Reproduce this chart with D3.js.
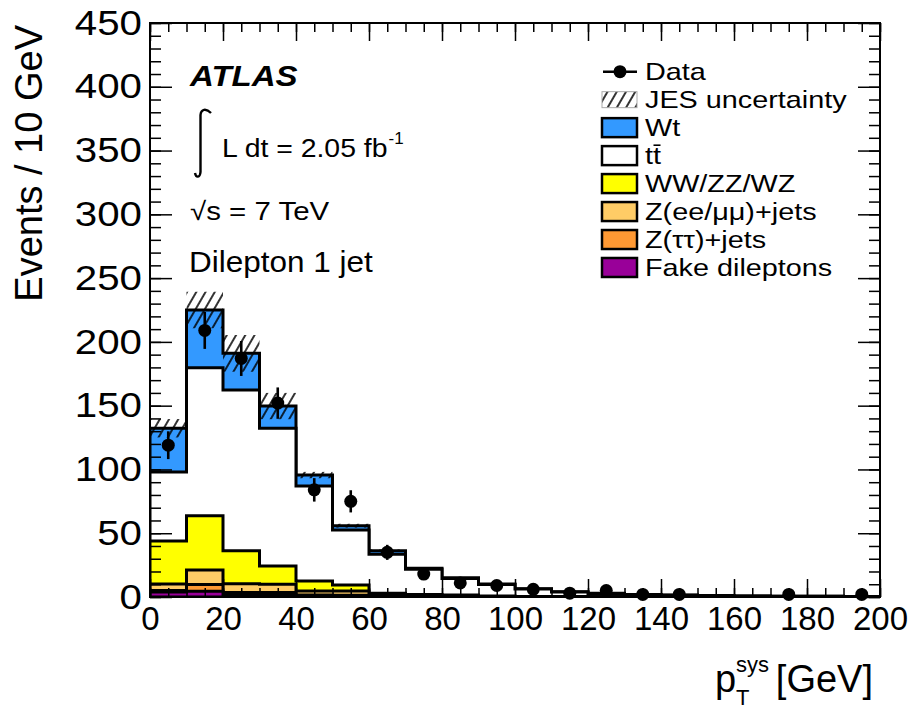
<!DOCTYPE html>
<html><head><meta charset="utf-8">
<script src="https://cdn.jsdelivr.net/npm/d3@7"></script>
<style>
body{margin:0;background:#fff}
svg{display:block}
text{font-family:"Liberation Sans",Arial,Helvetica,sans-serif;fill:#000}
</style>
</head><body>
<svg id="c" width="914" height="709"></svg>
<script>
// ---------------- data ----------------
const binLow   = [0,10,20,30,40,50,60,70,80,90,100,110,120,130,140,150,160,170,180,190];
const binWidth = 10;
const fake     = [4.0,4.5,1.5,1.5,0.3,0.2,0.2,0.1,0.1,0,0,0,0,0,0,0,0,0,0,0];
const ztautau  = [1.0,5.3,2.0,2.0,1.3,1.2,0.4,0.3,0.2,0.1,0,0,0,0,0,0,0,0,0,0];
const zeemumu  = [5.2,11.4,6.8,6.5,3.1,3.3,1.2,0.8,0.6,0.3,0.15,0.1,0,0,0,0,0,0,0,0];
const diboson  = [33.7,42.5,26.0,14.3,7.8,4.7,1.2,0.8,0.6,0.4,0.15,0.1,0.1,0.1,0,0,0,0,0,0];
const ttbar    = [54.1,116.1,126.0,108.0,74.5,43.1,30.5,19.8,13.1,9.0,5.9,3.8,2.6,1.8,1.4,1.0,0.8,0.6,0.5,0.4];
const wt       = [34.3,45.2,28.7,17.4,8.6,3.4,2.8,0.7,0.5,0.4,0.3,0.2,0.2,0.1,0.1,0.1,0.05,0.05,0.05,0.05];
const jesUnc   = [7.2,14.3,14.4,10.3,2.5,1.5,1.0,0.6,0.5,0.4,0.3,0.2,0.2,0.1,0.1,0.1,0.1,0.1,0.05,0.05];
const dataVal  = [119,209,187,152,84,75,35,18,11,9,6,3,5,2,2,0,0,2,0,2];
const dataErr  = [10.9,14.5,13.7,12.3,9.2,8.7,5.9,4.2,3.3,3.0,2.4,1.7,2.2,1.4,1.4,0,0,1.4,0,1.4];

const yTicks = [0,50,100,150,200,250,300,350,400,450];
const xTicks = [0,20,40,60,80,100,120,140,160,180,200];

const stackKeys   = ["fake","ztautau","zeemumu","diboson","ttbar","wt"];
const stackColors = {fake:"#990099", ztautau:"#ff9933", zeemumu:"#ffcc66", diboson:"#ffff00", ttbar:"#ffffff", wt:"#3399ff"};
const legendLabels = ["Data","JES uncertainty","Wt","tt","WW/ZZ/WZ","Z(ee/\u03bc\u03bc)+jets","Z(\u03c4\u03c4)+jets","Fake dileptons"];
const legendKeys   = ["data","jes","wt","ttbar","diboson","zeemumu","ztautau","fake"];

// ---------------- layout ----------------
const L=150, R=880, T=23, B=597;
const x = d3.scaleLinear().domain([0,200]).range([L,R]);
const y = d3.scaleLinear().domain([0,450]).range([B,T]);
const svg = d3.select("#c");
svg.append("rect").attr("width",914).attr("height",709).attr("fill","#fff");

const defs = svg.append("defs");
defs.append("clipPath").attr("id","clip").append("rect")
  .attr("x",L).attr("y",T).attr("width",R-L).attr("height",B-T);
const pat = defs.append("pattern").attr("id","hatch").attr("patternUnits","userSpaceOnUse")
  .attr("width",8).attr("height",8).attr("patternTransform","rotate(30)");
pat.append("line").attr("x1",4).attr("y1",0).attr("x2",4).attr("y2",8)
  .attr("stroke","#000").attr("stroke-width",1.6);

function stext(parent, px, py, str, size, sx, opts={}) {
  const t = parent.append("text")
    .attr("transform",`translate(${px},${py}) scale(${sx},1)`)
    .attr("font-size",size).text(str);
  if (opts.anchor) t.attr("text-anchor",opts.anchor);
  if (opts.weight) t.attr("font-weight",opts.weight);
  if (opts.style) t.attr("font-style",opts.style);
  return t;
}

// ---------------- stacked histogram ----------------
const rows = binLow.map((b,i)=>({x:b, fake:fake[i], ztautau:ztautau[i], zeemumu:zeemumu[i],
  diboson:diboson[i], ttbar:ttbar[i], wt:wt[i]}));
const series = d3.stack().keys(stackKeys)(rows);
const plot = svg.append("g").attr("clip-path","url(#clip)");
const area = d3.area().x(d=>x(d.x)).y0(y(0)).y1(d=>y(d.v)).curve(d3.curveStepAfter);

series.slice().reverse().forEach(s=>{
  const pts = s.map(d=>({x:d.data.x, v:d[1]}));
  pts.push({x:binLow[binLow.length-1]+binWidth, v:pts[pts.length-1].v});
  plot.append("path").datum(pts).attr("d",area)
    .attr("fill",stackColors[s.key]).attr("stroke","#000").attr("stroke-width",3)
    .attr("stroke-linejoin","miter");
});

// JES uncertainty band
const totals = series[series.length-1].map(d=>d[1]);
plot.selectAll("rect.jes").data(binLow).join("rect").attr("class","jes")
  .attr("x",d=>x(d)).attr("width",d=>x(d+binWidth)-x(d))
  .attr("y",(d,i)=>y(totals[i]+jesUnc[i]))
  .attr("height",(d,i)=>y(totals[i]-jesUnc[i])-y(totals[i]+jesUnc[i]))
  .attr("fill","url(#hatch)");

// data points
const pts = binLow.map((b,i)=>({c:b+binWidth/2, v:dataVal[i], e:dataErr[i]})).filter(d=>d.v>0);
plot.selectAll("line.err").data(pts).join("line").attr("class","err")
  .attr("x1",d=>x(d.c)).attr("x2",d=>x(d.c))
  .attr("y1",d=>y(d.v-d.e)).attr("y2",d=>y(d.v+d.e))
  .attr("stroke","#000").attr("stroke-width",2.6);
svg.selectAll("circle.dat").data(pts).join("circle").attr("class","dat")
  .attr("cx",d=>x(d.c)).attr("cy",d=>y(d.v)).attr("r",6.5).attr("fill","#000");

// ---------------- axes ----------------
function styleAxis(g){
  g.attr("font-family",null).attr("font-size",null);
  g.select(".domain").remove();
  g.selectAll(".tick line").attr("stroke","#000").attr("stroke-width",1.5);
}
// minor ticks
svg.append("g").attr("transform",`translate(${L},0)`)
  .call(d3.axisLeft(y).tickValues(d3.range(0,451,10)).tickSize(-11).tickFormat("")).call(styleAxis);
svg.append("g").attr("transform",`translate(${R},0)`)
  .call(d3.axisRight(y).tickValues(d3.range(0,451,10)).tickSize(-11).tickFormat("")).call(styleAxis);
svg.append("g").attr("transform",`translate(0,${B})`)
  .call(d3.axisBottom(x).tickValues(d3.range(0,201,5)).tickSize(-9).tickFormat("")).call(styleAxis);
svg.append("g").attr("transform",`translate(0,${T})`)
  .call(d3.axisTop(x).tickValues(d3.range(0,201,5)).tickSize(-9).tickFormat("")).call(styleAxis);
// major ticks
const yAx = svg.append("g").attr("transform",`translate(${L},0)`)
  .call(d3.axisLeft(y).tickValues(yTicks).tickSize(-22).tickPadding(7).tickFormat(d3.format("d"))).call(styleAxis);
yAx.selectAll("text").attr("font-size",35).attr("transform","scale(1.15,1)");
svg.append("g").attr("transform",`translate(${R},0)`)
  .call(d3.axisRight(y).tickValues(yTicks).tickSize(-22).tickFormat("")).call(styleAxis);
const xAx = svg.append("g").attr("transform",`translate(0,${B})`)
  .call(d3.axisBottom(x).tickValues(xTicks).tickSize(-18).tickPadding(10).tickFormat(d3.format("d"))).call(styleAxis);
xAx.selectAll("text").attr("font-size",33);
svg.append("g").attr("transform",`translate(0,${T})`)
  .call(d3.axisTop(x).tickValues(xTicks).tickSize(-18).tickFormat("")).call(styleAxis);

// frame
svg.append("rect").attr("x",L).attr("y",T).attr("width",R-L).attr("height",B-T)
  .attr("fill","none").attr("stroke","#000").attr("stroke-width",2);

// axis titles
svg.append("text").attr("transform","translate(42,25) rotate(-90)")
  .attr("text-anchor","end").attr("font-size",38).text("Events / 10 GeV");
svg.append("text").attr("x",873).attr("y",692).attr("text-anchor","end").attr("font-size",38).text("[GeV]");
svg.append("text").attr("x",715).attr("y",692).attr("font-size",38).text("p");
svg.append("text").attr("x",736).attr("y",672).attr("font-size",22).text("sys");
svg.append("text").attr("x",736).attr("y",705).attr("font-size",22).text("T");

// ---------------- annotations ----------------
stext(svg,190,86,"ATLAS",29.5,1.12,{weight:"bold",style:"italic"});
svg.append("path")
  .attr("d","M195,173 C196,178 200,178 200.5,172 L200.5,115 C201,109 206,108 211,113")
  .attr("fill","none").attr("stroke","#000").attr("stroke-width",2.4);
const lumi = stext(svg,222,157,"L dt = 2.05 fb",25.6,1.11);
const lumiW = lumi.node().getComputedTextLength()*1.11;
svg.append("text").attr("x",222+lumiW+1).attr("y",144).attr("font-size",17).text("-1");
stext(svg,190,220,"\u221as = 7 TeV",25.6,1.15);
stext(svg,189,271.5,"Dilepton 1 jet",30,1.05);

// ---------------- legend ----------------
const legY0 = 71.7, legStep = 27.97;
const leg = svg.append("g");
legendKeys.forEach((k,i)=>{
  const cy = legY0 + i*legStep;
  if (k==="data") {
    leg.append("line").attr("x1",603).attr("x2",637).attr("y1",cy).attr("y2",cy)
      .attr("stroke","#000").attr("stroke-width",2.4);
    leg.append("circle").attr("cx",620).attr("cy",cy).attr("r",6.5).attr("fill","#000");
  } else if (k==="jes") {
    leg.append("rect").attr("x",602).attr("y",cy-8).attr("width",35).attr("height",16)
      .attr("fill","url(#hatch)").attr("stroke","#aaa").attr("stroke-width",1);
  } else {
    leg.append("rect").attr("x",602).attr("y",cy-9.5).attr("width",35).attr("height",19)
      .attr("fill",stackColors[k]).attr("stroke","#000").attr("stroke-width",2.5);
  }
  const t = stext(leg,645,cy+8.6,legendLabels[i],24,1.2);
  if (k==="ttbar") {
    const tw = t.node().getComputedTextLength()*1.2/2;
    leg.append("line").attr("x1",645+tw+0.5).attr("x2",645+2*tw-0.5)
      .attr("y1",cy+8.6-19).attr("y2",cy+8.6-19).attr("stroke","#000").attr("stroke-width",1.6);
  }
});
</script>
</body></html>
